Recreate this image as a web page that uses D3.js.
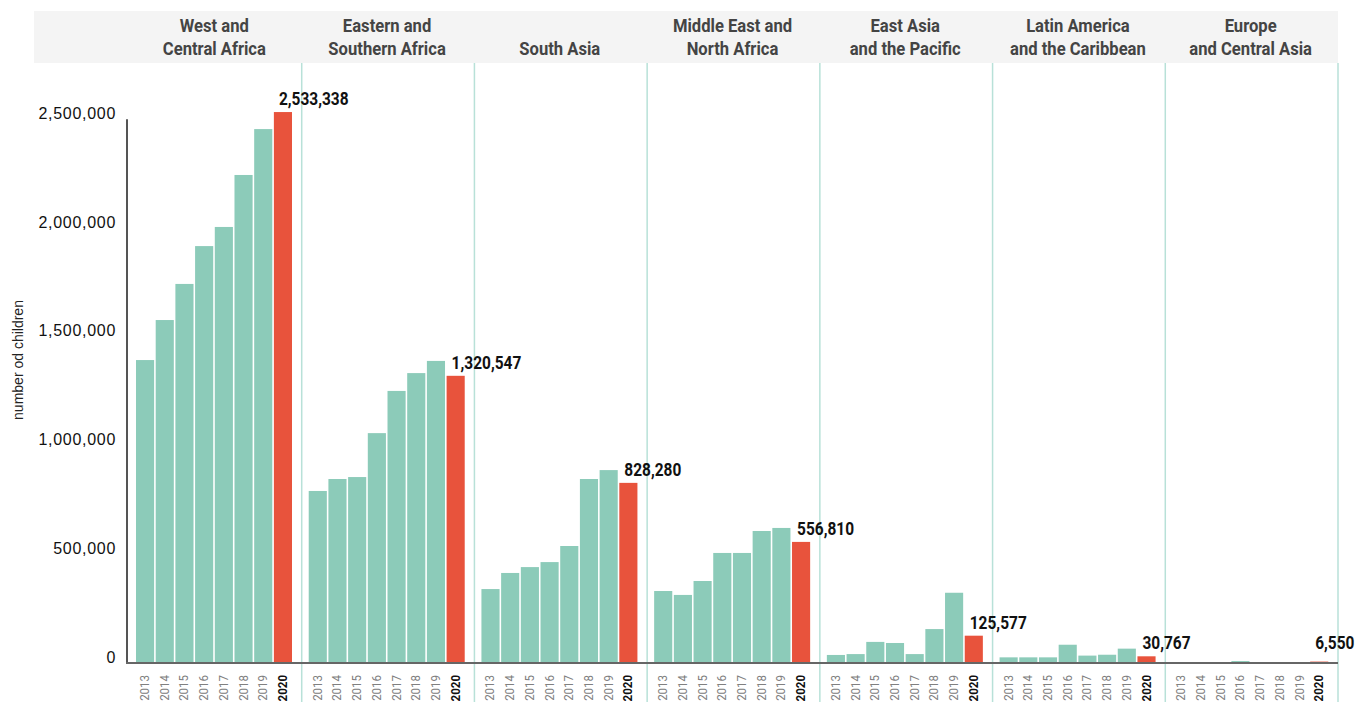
<!DOCTYPE html>
<html>
<head>
<meta charset="utf-8">
<script src="https://cdn.jsdelivr.net/npm/d3@7"></script>
<style>
  html, body { margin: 0; padding: 0; background: #fff; }
  svg { display: block; }
</style>
</head>
<body>
<svg id="chart" width="1358" height="702"></svg>
<script>
// ---- data ----
const regions = [
  "West and Central Africa",
  "Eastern and Southern Africa",
  "South Asia",
  "Middle East and North Africa",
  "East Asia and the Pacific",
  "Latin America and the Caribbean",
  "Europe and Central Asia"
];
const regionLabels = [
  ["West and", "Central Africa"],
  ["Eastern and", "Southern Africa"],
  ["South Asia"],
  ["Middle East and", "North Africa"],
  ["East Asia", "and the Pacific"],
  ["Latin America", "and the Caribbean"],
  ["Europe", "and Central Asia"]
];
const years = ["2013", "2014", "2015", "2016", "2017", "2018", "2019", "2020"];
const westCentralAfrica   = [1393000, 1577000, 1743000, 1917000, 2005000, 2244000, 2455000, 2533338];
const easternSouthernAfrica = [791000, 846000, 855000, 1057000, 1251000, 1333000, 1389000, 1320547];
const southAsia           = [340000, 414000, 441000, 464000, 538000, 846000, 887000, 828280];
const middleEastNorthAfrica = [331000, 313000, 377000, 506000, 506000, 607000, 621000, 556810];
const eastAsiaPacific     = [37000, 41000, 97000, 92000, 41000, 156000, 323000, 125577];
const latinAmericaCaribbean = [26000, 26000, 26000, 84000, 34000, 38000, 66000, 30767];
const europeCentralAsia   = [1000, 2000, 2500, 9000, 4000, 3000, 3500, 6550];
const seriesValues = [westCentralAfrica, easternSouthernAfrica, southAsia, middleEastNorthAfrica,
                      eastAsiaPacific, latinAmericaCaribbean, europeCentralAsia];
const yTicks = [0, 500000, 1000000, 1500000, 2000000, 2500000];
const yTitle = "number od children";

// ---- layout ----
const svg = d3.select("#chart");
const baseY = 663;
const y = d3.scaleLinear().domain([0, 2500000]).range([baseY, 119.3]);
const xOuter = d3.scaleBand().domain(regions).range([129, 1338]);
const xInner = d3.scaleBand().domain(years).range([7, 163]).paddingInner(0.08);
const teal = "#8ccbb9", red = "#e8533c", sepColor = "#b8e1d8";
const fmt = d3.format(",");

// header band
svg.append("rect").attr("x", 34).attr("y", 11).attr("width", 1338 - 34).attr("height", 52)
  .attr("fill", "#f4f4f4");

// region headers
regions.forEach((r, i) => {
  const cx = xOuter(r) + xOuter.bandwidth() / 2 - 1;
  const lines = regionLabels[i];
  const baselines = lines.length === 2 ? [32, 55] : [55];
  lines.forEach((ln, j) => {
    svg.append("g").attr("transform", `translate(${cx},${baselines[j]}) scale(0.95,1)`)
      .append("text").attr("text-anchor", "middle")
      .attr("font-family", "Roboto, 'Liberation Sans', sans-serif")
      .attr("font-weight", 700).attr("font-size", 17.5).attr("fill", "#444")
      .text(ln);
  });
});

// separators
regions.forEach(r => {
  const xx = xOuter(r) + xOuter.bandwidth();
  svg.append("line").attr("x1", xx).attr("x2", xx).attr("y1", 63).attr("y2", 702)
    .attr("stroke", sepColor).attr("stroke-width", 1.5);
});

// bars
regions.forEach((r, i) => {
  const g = svg.append("g").attr("transform", `translate(${xOuter(r)},0)`);
  g.selectAll("rect").data(years.map((yr, k) => ({yr, v: seriesValues[i][k]})))
    .join("rect")
    .attr("x", d => xInner(d.yr))
    .attr("width", xInner.bandwidth())
    .attr("y", d => y(d.v))
    .attr("height", d => baseY - y(d.v))
    .attr("fill", d => d.yr === "2020" ? red : teal);

  // value label for 2020
  const v = seriesValues[i][7];
  g.append("g").attr("transform", `translate(${xInner("2020") + 5},${Math.min(y(v), 656) - 7}) scale(0.86,1)`)
    .append("text")
    .attr("font-family", "Roboto, 'Liberation Sans', sans-serif")
    .attr("font-weight", 700).attr("font-size", 18).attr("fill", "#111")
    .text(fmt(v));

  // year labels
  years.forEach(yr => {
    const isLast = yr === "2020";
    g.append("g")
      .attr("transform", `translate(${xInner(yr) + xInner.bandwidth() / 2 + 4},675) rotate(-90) scale(0.9,1)`)
      .append("text").attr("text-anchor", "end")
      .attr("font-family", "Roboto, 'Liberation Sans', sans-serif")
      .attr("font-size", 12.8)
      .attr("font-weight", isLast ? 700 : 400)
      .attr("fill", isLast ? "#111" : "#808080")
      .text(yr);
  });
});

// y axis
const yAxis = d3.axisLeft(y).tickValues(yTicks).tickSize(0).tickFormat(fmt);
const ag = svg.append("g").attr("transform", "translate(127,0)").call(yAxis);
ag.select(".domain").remove();
ag.selectAll("text")
  .attr("x", -11).attr("dy", null).attr("y", -5)
  .attr("dominant-baseline", "middle")
  .attr("font-family", "'Liberation Sans', Arial, sans-serif")
  .attr("font-size", 16).attr("letter-spacing", 0.7).attr("fill", "#111");
svg.append("line").attr("x1", 127).attr("x2", 127).attr("y1", y(2500000)).attr("y2", baseY + 1)
  .attr("stroke", "#555").attr("stroke-width", 2);

// baseline
svg.append("line").attr("x1", 126).attr("x2", 1338).attr("y1", baseY).attr("y2", baseY)
  .attr("stroke", "#666").attr("stroke-width", 2);

// y title
svg.append("text").attr("transform", "translate(23,360) rotate(-90)")
  .attr("text-anchor", "middle")
  .attr("font-family", "'Liberation Sans', Arial, sans-serif")
  .attr("font-size", 14).attr("fill", "#222")
  .text(yTitle);
</script>
</body>
</html>
